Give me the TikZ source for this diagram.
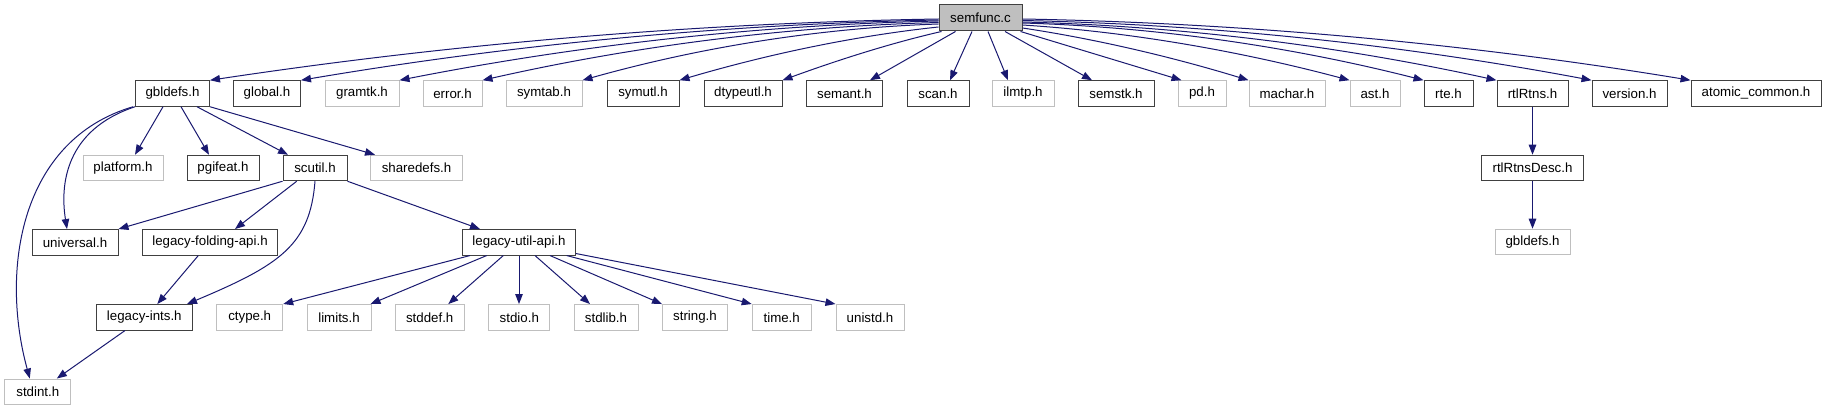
\documentclass[tikz,border=0pt]{standalone}
\usepackage{fontspec}
\newfontfamily\doxfont{Liberation Sans}
\usetikzlibrary{arrows.meta}
\definecolor{edgeblue}{HTML}{191970}
\definecolor{boxdark}{HTML}{404040}
\definecolor{boxlight}{HTML}{BFBFBF}
\begin{document}
\begin{tikzpicture}[x=1pt,y=-1pt,
  hbox/.style={draw=boxdark, line width=1pt, fill=white, inner sep=0pt, minimum height=25.5pt,
    font=\doxfont\fontsize{13.3}{16}\selectfont},
  gbox/.style={hbox, draw=boxlight},
  rootbox/.style={hbox, fill=boxlight, minimum height=26pt},
  edge/.style={draw=edgeblue, line width=1pt, -{Triangle[length=10pt,width=7.5pt]}, fill=none}]
\useasboundingbox (0,0) rectangle (1827,411);
\fill[white] (0,0) rectangle (1827,411);

% root
\node[rootbox, minimum width=83pt] (semfunc) at (980.5,18) {semfunc.c};

% top row
\node[hbox, minimum width=74pt] (gbldefs) at (172.5,93.5) {gbldefs.h};
\node[hbox, minimum width=67pt] (global) at (267,93.5) {global.h};
\node[gbox, minimum width=74pt] (gramtk) at (362,93.5) {gramtk.h};
\node[gbox, minimum width=59pt] (error) at (452.5,93.5) {error.h};
\node[gbox, minimum width=76pt] (symtab) at (544,93.5) {symtab.h};
\node[hbox, minimum width=72pt] (symutl) at (643,93.5) {symutl.h};
\node[hbox, minimum width=78pt] (dtypeutl) at (743,93.5) {dtypeutl.h};
\node[hbox, minimum width=76pt] (semant) at (844.5,93.5) {semant.h};
\node[hbox, minimum width=62pt] (scan) at (938,93.5) {scan.h};
\node[gbox, minimum width=62pt] (ilmtp) at (1023,93.5) {ilmtp.h};
\node[hbox, minimum width=76pt] (semstk) at (1116,93.5) {semstk.h};
\node[gbox, minimum width=48pt] (pd) at (1202,93.5) {pd.h};
\node[gbox, minimum width=76pt] (machar) at (1287,93.5) {machar.h};
\node[gbox, minimum width=50pt] (ast) at (1375,93.5) {ast.h};
\node[hbox, minimum width=49pt] (rte) at (1448.5,93.5) {rte.h};
\node[hbox, minimum width=71pt] (rtlRtns) at (1532.5,93.5) {rtlRtns.h};
\node[hbox, minimum width=75pt] (version) at (1629.5,93.5) {version.h};
\node[hbox, minimum width=130pt] (atomic) at (1756,93.5) {atomic\_common.h};

% second row
\node[gbox, minimum width=80pt] (platform) at (123,168) {platform.h};
\node[hbox, minimum width=72pt] (pgifeat) at (223,168) {pgifeat.h};
\node[hbox, minimum width=64pt] (scutil) at (315,168) {scutil.h};
\node[gbox, minimum width=92pt] (sharedefs) at (416.5,168) {sharedefs.h};
\node[hbox, minimum width=102pt] (rtlRtnsDesc) at (1532.5,168) {rtlRtnsDesc.h};

% third row
\node[hbox, minimum width=86pt] (universal) at (75,242.3) {universal.h};
\node[hbox, minimum width=135pt] (legfold) at (210,242.3) {legacy-folding-api.h};
\node[hbox, minimum width=113pt] (legutil) at (519,242.3) {legacy-util-api.h};
\node[gbox, minimum width=75pt] (gbldefsB) at (1532.5,242) {gbldefs.h};

% fourth row
\node[hbox, minimum width=96pt] (legints) at (144.3,317.3) {legacy-ints.h};
\node[gbox, minimum width=66pt] (ctype) at (249.7,317.3) {ctype.h};
\node[gbox, minimum width=64pt] (limits) at (339,317.3) {limits.h};
\node[gbox, minimum width=69pt] (stddef) at (429.7,317.3) {stddef.h};
\node[gbox, minimum width=61pt] (stdio) at (519.3,317.3) {stdio.h};
\node[gbox, minimum width=64pt] (stdlib) at (606,317.3) {stdlib.h};
\node[gbox, minimum width=65pt] (string) at (695,317.3) {string.h};
\node[gbox, minimum width=59pt] (time) at (781.7,317.3) {time.h};
\node[gbox, minimum width=68pt] (unistd) at (870,317.3) {unistd.h};

% fifth row
\node[gbox, minimum width=66pt] (stdint) at (37.8,391.8) {stdint.h};

% edges from semfunc.c
\draw[edge] ([yshift=-1pt]semfunc.west) .. controls (695.7,23) and (452.5,43.7) .. (gbldefs.north east);
\draw[edge] ([yshift=-2pt]semfunc.west) .. controls (726,24) and (513.2,44.3) .. (global.north east);
\draw[edge] ([yshift=-3pt]semfunc.west) .. controls (758.7,25) and (578.7,45) .. (gramtk.north east);
\draw[edge] ([yshift=-4.5pt]semfunc.west) .. controls (786.3,26.5) and (634,46) .. (error.north east);
\draw[edge] ([yshift=-6pt]semfunc.west) .. controls (819.7,28) and (700.7,47) .. (symtab.north east);
\draw[edge] ([yshift=-9pt]semfunc.west) .. controls (856.3,35.7) and (769.7,53.7) .. (symutl.north east);
\draw[edge] ([xshift=3pt]semfunc.south west) .. controls (894,42.3) and (840.7,59) .. (dtypeutl.north east);
\draw[edge] ([xshift=17pt]semfunc.south west) -- ([xshift=-13pt]semant.north east);
\draw[edge] ([xshift=-8.5pt]semfunc.south) -- ([xshift=12pt]scan.north);
\draw[edge] ([xshift=7.5pt]semfunc.south) -- ([xshift=-15pt]ilmtp.north);
\draw[edge] ([xshift=24.5pt]semfunc.south) -- ([xshift=-24pt]semstk.north);
\draw[edge] ([xshift=-2pt]semfunc.south east) -- ([xshift=4pt]pd.north west);
\draw[edge] ([yshift=-10pt]semfunc.east) .. controls (1094,38.7) and (1170,56.3) .. (machar.north west);
\draw[edge] ([yshift=-7pt]semfunc.east) .. controls (1127.3,31.7) and (1236.7,50.3) .. (ast.north west);
\draw[edge] ([yshift=-5pt]semfunc.east) .. controls (1156,27) and (1290,46.3) .. (rte.north west);
\draw[edge] ([yshift=-4pt]semfunc.east) .. controls (1180.3,26) and (1338.7,45.7) .. (rtlRtns.north west);
\draw[edge] ([yshift=-2.5pt]semfunc.east) .. controls (1212,24.5) and (1402,44.7) .. (version.north west);
\draw[edge] ([yshift=-1pt]semfunc.east) .. controls (1245.3,23) and (1468.7,43.7) .. (atomic.north west);

% edges from gbldefs.h
\draw[edge] ([xshift=-9.5pt]gbldefs.south) -- ([xshift=12pt]platform.north);
\draw[edge] ([xshift=8.5pt]gbldefs.south) -- ([xshift=-14pt]pgifeat.north);
\draw[edge] ([xshift=24.5pt]gbldefs.south) -- ([xshift=-27pt]scutil.north);
\draw[edge] (gbldefs.south east) -- ([xshift=-41.5pt]sharedefs.north);
\draw[edge] (gbldefs.south west) .. controls (65,130) and (60,185) .. ([xshift=-8pt]universal.north);
\draw[edge] ([xshift=-2pt]gbldefs.south west) .. controls (20,140) and (0,270) .. ([xshift=-8pt]stdint.north);

% edges from scutil.h
\draw[edge] (scutil.south west) -- (universal.north east);
\draw[edge] ([xshift=-18.3pt]scutil.south) -- ([xshift=25pt]legfold.north);
\draw[edge] (scutil.south) .. controls (310,245) and (280,265) .. ([xshift=42.7pt]legints.north);
\draw[edge] (scutil.south east) -- ([xshift=-39pt]legutil.north);

% legacy-folding-api.h, legacy-ints.h
\draw[edge] ([xshift=-11.7pt]legfold.south) -- ([xshift=13pt]legints.north);
\draw[edge] ([xshift=-19.3pt]legints.south) -- ([xshift=19pt]stdint.north);

% edges from legacy-util-api.h
\draw[edge] ([xshift=-49pt]legutil.south) -- (ctype.north east);
\draw[edge] ([xshift=-32.3pt]legutil.south) -- ([xshift=-1pt]limits.north east);
\draw[edge] ([xshift=-15.7pt]legutil.south) -- ([xshift=18.6pt]stddef.north);
\draw[edge] (legutil.south) -- ([xshift=-0.3pt]stdio.north);
\draw[edge] ([xshift=16pt]legutil.south) -- ([xshift=-16pt]stdlib.north);
\draw[edge] ([xshift=31pt]legutil.south) -- (string.north west);
\draw[edge] ([xshift=47.7pt]legutil.south) -- (time.north west);
\draw[edge] ([yshift=2pt]legutil.south east) -- (unistd.north west);

% rtlRtns chain
\draw[edge] (rtlRtns.south) -- (rtlRtnsDesc.north);
\draw[edge] (rtlRtnsDesc.south) -- (gbldefsB.north);
\end{tikzpicture}
\end{document}
